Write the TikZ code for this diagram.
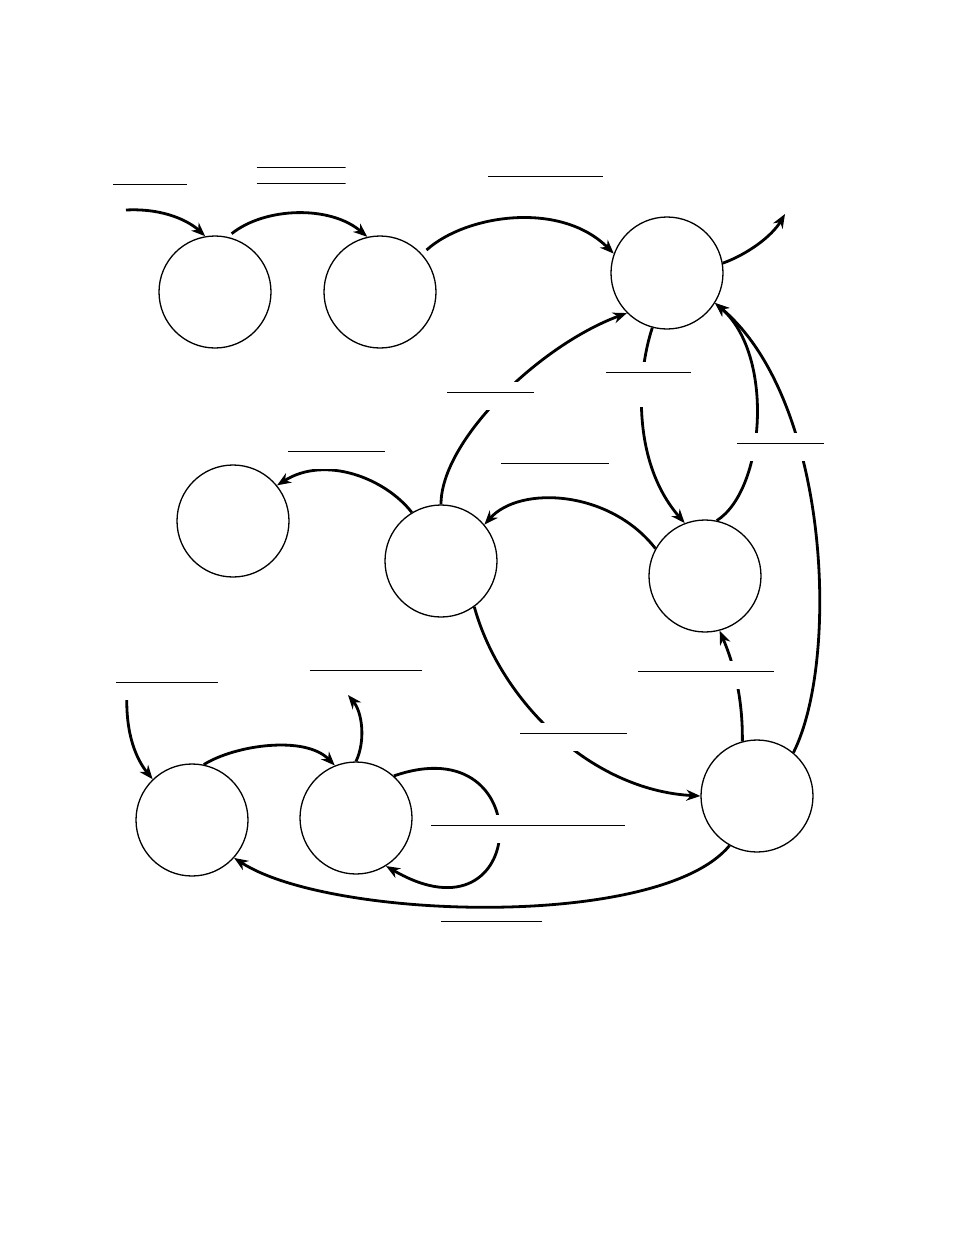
\documentclass[tikz,border=0pt]{standalone}
\usetikzlibrary{arrows.meta}
\begin{document}
\begin{tikzpicture}[x=1pt,y=-1pt,
  st/.style={circle,draw,line width=1.3pt,minimum size=112pt,inner sep=0pt},
  tr/.style={line width=2.8pt,-{Stealth[length=14pt,width=11pt,inset=4.5pt]}},
  lab/.style={fill=white,inner sep=0pt,minimum height=28pt,
    path picture={\draw[line width=1pt] ([yshift=-10pt]path picture bounding box.north west) -- ([yshift=-10pt]path picture bounding box.north east);}},
  labtwo/.style={fill=white,inner sep=0pt,minimum height=40pt,
    path picture={\draw[line width=1pt] ([yshift=-10pt]path picture bounding box.north west) -- ([yshift=-10pt]path picture bounding box.north east);
      \draw[line width=1pt] ([yshift=-26pt]path picture bounding box.north west) -- ([yshift=-26pt]path picture bounding box.north east);}}
]
\useasboundingbox (0,0) rectangle (954,1235);

% states
\node[st] (A) at (215,292) {};
\node[st] (B) at (380,292) {};
\node[st] (C) at (667,273) {};
\node[st] (D) at (233,521) {};
\node[st] (E) at (441,561) {};
\node[st] (F) at (705,576) {};
\node[st] (G) at (757,796) {};
\node[st] (H) at (192,820) {};
\node[st] (I) at (356,818) {};

\coordinate (s1) at (126,210);
\coordinate (x1) at (785,214);
\coordinate (s2) at (127,692);
\coordinate (x2) at (348,695);

% transitions
\draw[tr] (s1) .. controls (165,208) and (190,222) .. (A.100);
\draw[tr,shorten <=5pt] (A.77) .. controls (265,207) and (330,205) .. (B.103);
\draw[tr,shorten <=6pt] (B.42) .. controls (465,215) and (560,200) .. (C.160);
\draw[tr] (C.10) .. controls (748,254) and (772,236) .. (x1);
\draw[tr] (E.90) .. controls (441,440) and (540,345) .. (C.225);
\draw[tr] (C.255) .. controls (638,370) and (630,460) .. (F.111);
\draw[tr] (F.78) .. controls (765,490) and (775,355) .. (C.-32);
\draw[tr] (G.50) .. controls (840,660) and (830,400) .. (C.-32);
\draw[tr] (F.151) .. controls (610,490) and (520,485) .. (E.40);
\draw[tr] (E.121) .. controls (385,478) and (325,455) .. (D.39);
\draw[tr] (E.-54) .. controls (500,700) and (590,790) .. (G.180);
\draw[tr] (G.105) .. controls (743,690) and (730,655) .. (F.-75);
\draw[tr] (G.241) .. controls (660,930) and (330,920) .. (H.-42);
\draw[tr] (s2) .. controls (125,735) and (137,760) .. (H.134);
\draw[tr] (H.78) .. controls (235,745) and (305,735) .. (I.112);
\draw[tr] (I.90) .. controls (366,740) and (362,712) .. (x2);
\draw[tr] (I.48) .. controls (540,725) and (530,950) .. (I.-58);

% labels (blank rules)
\node[lab,minimum width=74pt] (l1) at (150,188) {};
\node[labtwo,minimum width=89pt] (l2) at (301,177) {};
\node[lab,minimum width=115pt] (l3) at (545.5,180) {};
\node[lab,minimum width=87pt] (l4) at (490.5,396) {};
\node[lab,minimum width=85pt,minimum height=45pt] (l5) at (648.5,384.5) {};
\node[lab,minimum width=87pt] (l6) at (780.5,447) {};
\node[lab,minimum width=97pt] (l7) at (336.5,455) {};
\node[lab,minimum width=108pt] (l8) at (555,467) {};
\node[lab,minimum width=102pt] (l9) at (167,686) {};
\node[lab,minimum width=112pt] (l10) at (366,674) {};
\node[lab,minimum width=136pt] (l11) at (706,675) {};
\node[lab,minimum width=107pt] (l12) at (573.5,737) {};
\node[lab,minimum width=194pt] (l13) at (528,829) {};
\node[lab,minimum width=101pt] (l14) at (491.5,925) {};
\end{tikzpicture}
\end{document}
